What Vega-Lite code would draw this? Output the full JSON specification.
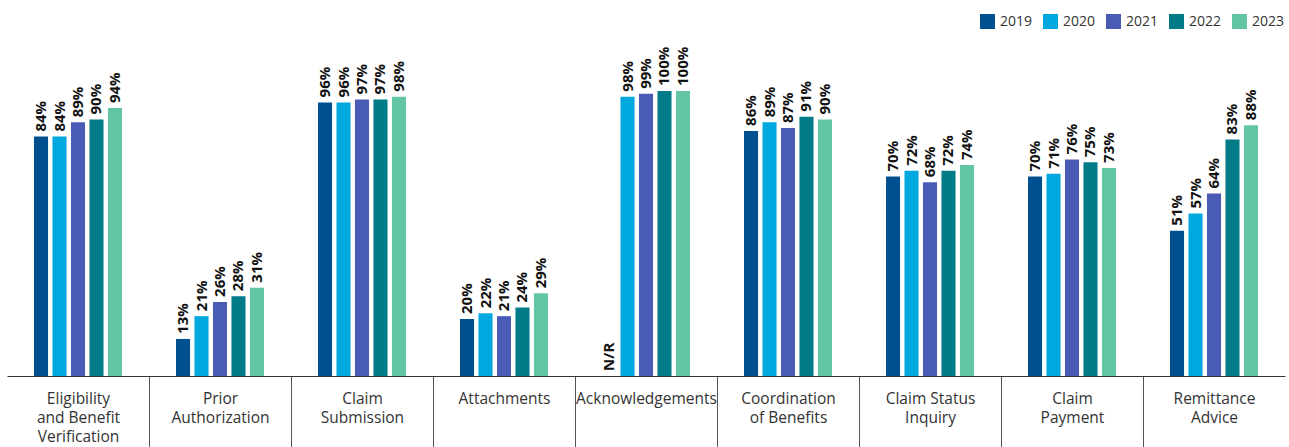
{
  "$schema": "https://vega.github.io/schema/vega-lite/v6.json",
  "width": 1278,
  "height": 285,
  "autosize": "none",
  "padding": {"left": 7, "top": 91, "right": 4, "bottom": 71},
  "background": "white",
  "config": {"view": {"stroke": null}},
  "data": {
    "values": [
      {"category": "Eligibility and Benefit Verification", "year": "2019", "value": 84, "label": "84%"},
      {"category": "Eligibility and Benefit Verification", "year": "2020", "value": 84, "label": "84%"},
      {"category": "Eligibility and Benefit Verification", "year": "2021", "value": 89, "label": "89%"},
      {"category": "Eligibility and Benefit Verification", "year": "2022", "value": 90, "label": "90%"},
      {"category": "Eligibility and Benefit Verification", "year": "2023", "value": 94, "label": "94%"},
      {"category": "Prior Authorization", "year": "2019", "value": 13, "label": "13%"},
      {"category": "Prior Authorization", "year": "2020", "value": 21, "label": "21%"},
      {"category": "Prior Authorization", "year": "2021", "value": 26, "label": "26%"},
      {"category": "Prior Authorization", "year": "2022", "value": 28, "label": "28%"},
      {"category": "Prior Authorization", "year": "2023", "value": 31, "label": "31%"},
      {"category": "Claim Submission", "year": "2019", "value": 96, "label": "96%"},
      {"category": "Claim Submission", "year": "2020", "value": 96, "label": "96%"},
      {"category": "Claim Submission", "year": "2021", "value": 97, "label": "97%"},
      {"category": "Claim Submission", "year": "2022", "value": 97, "label": "97%"},
      {"category": "Claim Submission", "year": "2023", "value": 98, "label": "98%"},
      {"category": "Attachments", "year": "2019", "value": 20, "label": "20%"},
      {"category": "Attachments", "year": "2020", "value": 22, "label": "22%"},
      {"category": "Attachments", "year": "2021", "value": 21, "label": "21%"},
      {"category": "Attachments", "year": "2022", "value": 24, "label": "24%"},
      {"category": "Attachments", "year": "2023", "value": 29, "label": "29%"},
      {"category": "Acknowledgements", "year": "2019", "value": 0, "label": "N/R"},
      {"category": "Acknowledgements", "year": "2020", "value": 98, "label": "98%"},
      {"category": "Acknowledgements", "year": "2021", "value": 99, "label": "99%"},
      {"category": "Acknowledgements", "year": "2022", "value": 100, "label": "100%"},
      {"category": "Acknowledgements", "year": "2023", "value": 100, "label": "100%"},
      {"category": "Coordination of Benefits", "year": "2019", "value": 86, "label": "86%"},
      {"category": "Coordination of Benefits", "year": "2020", "value": 89, "label": "89%"},
      {"category": "Coordination of Benefits", "year": "2021", "value": 87, "label": "87%"},
      {"category": "Coordination of Benefits", "year": "2022", "value": 91, "label": "91%"},
      {"category": "Coordination of Benefits", "year": "2023", "value": 90, "label": "90%"},
      {"category": "Claim Status Inquiry", "year": "2019", "value": 70, "label": "70%"},
      {"category": "Claim Status Inquiry", "year": "2020", "value": 72, "label": "72%"},
      {"category": "Claim Status Inquiry", "year": "2021", "value": 68, "label": "68%"},
      {"category": "Claim Status Inquiry", "year": "2022", "value": 72, "label": "72%"},
      {"category": "Claim Status Inquiry", "year": "2023", "value": 74, "label": "74%"},
      {"category": "Claim Payment", "year": "2019", "value": 70, "label": "70%"},
      {"category": "Claim Payment", "year": "2020", "value": 71, "label": "71%"},
      {"category": "Claim Payment", "year": "2021", "value": 76, "label": "76%"},
      {"category": "Claim Payment", "year": "2022", "value": 75, "label": "75%"},
      {"category": "Claim Payment", "year": "2023", "value": 73, "label": "73%"},
      {"category": "Remittance Advice", "year": "2019", "value": 51, "label": "51%"},
      {"category": "Remittance Advice", "year": "2020", "value": 57, "label": "57%"},
      {"category": "Remittance Advice", "year": "2021", "value": 64, "label": "64%"},
      {"category": "Remittance Advice", "year": "2022", "value": 83, "label": "83%"},
      {"category": "Remittance Advice", "year": "2023", "value": 88, "label": "88%"}
    ]
  },
  "encoding": {
    "x": {
      "field": "category",
      "type": "nominal",
      "sort": null,
      "title": null,
      "scale": {"paddingInner": 0.12, "paddingOuter": 0.06},
      "axis": {
        "labelAngle": 0,
        "labelFont": "Open Sans",
        "labelFontSize": 15.5,
        "labelColor": "#333333",
        "labelLineHeight": 19,
        "labelBaseline": "top",
        "labelPadding": -56,
        "labelLimit": 200,
        "domainColor": "#333333",
        "domainWidth": 1,
        "tickColor": "#555555",
        "tickWidth": 1,
        "tickSize": 71,
        "tickOffset": -71,
        "labelOffset": 71,
        "tickOpacity": {"condition": {"test": "datum.value === 'Eligibility and Benefit Verification'", "value": 0}, "value": 1},
        "labelExpr": "datum.value === 'Eligibility and Benefit Verification' ? ['Eligibility', 'and Benefit', 'Verification'] : datum.value === 'Prior Authorization' ? ['Prior', 'Authorization'] : datum.value === 'Claim Submission' ? ['Claim', 'Submission'] : datum.value === 'Coordination of Benefits' ? ['Coordination', 'of Benefits'] : datum.value === 'Claim Status Inquiry' ? ['Claim Status', 'Inquiry'] : datum.value === 'Claim Payment' ? ['Claim', 'Payment'] : datum.value === 'Remittance Advice' ? ['Remittance', 'Advice'] : datum.value"
      }
    },
    "xOffset": {
      "field": "year",
      "type": "nominal",
      "scale": {"paddingInner": 0.24, "paddingOuter": 1}
    },
    "y": {
      "field": "value",
      "type": "quantitative",
      "scale": {"domain": [0, 100]},
      "axis": null
    }
  },
  "layer": [
    {
      "mark": {"type": "bar"},
      "encoding": {
        "color": {
          "field": "year",
          "type": "nominal",
          "title": null,
          "scale": {
            "domain": ["2019", "2020", "2021", "2022", "2023"],
            "range": ["#00508F", "#00A8E0", "#4A5BB5", "#007B87", "#62C6A4"]
          },
          "legend": {
            "orient": "none",
            "direction": "horizontal",
            "legendX": 973,
            "legendY": -77,
            "symbolType": "square",
            "symbolSize": 225,
            "symbolStrokeWidth": 0,
            "symbolOpacity": 1,
            "labelFont": "Open Sans",
            "labelFontSize": 14,
            "labelColor": "#333333",
            "labelOffset": 5,
            "columnPadding": 10
          }
        }
      }
    },
    {
      "mark": {
        "type": "text",
        "angle": 270,
        "align": "left",
        "baseline": "middle",
        "dx": 5,
        "font": "Open Sans",
        "fontWeight": "bold",
        "fontSize": 15,
        "color": "#111111"
      },
      "encoding": {"text": {"field": "label"}}
    }
  ]
}
